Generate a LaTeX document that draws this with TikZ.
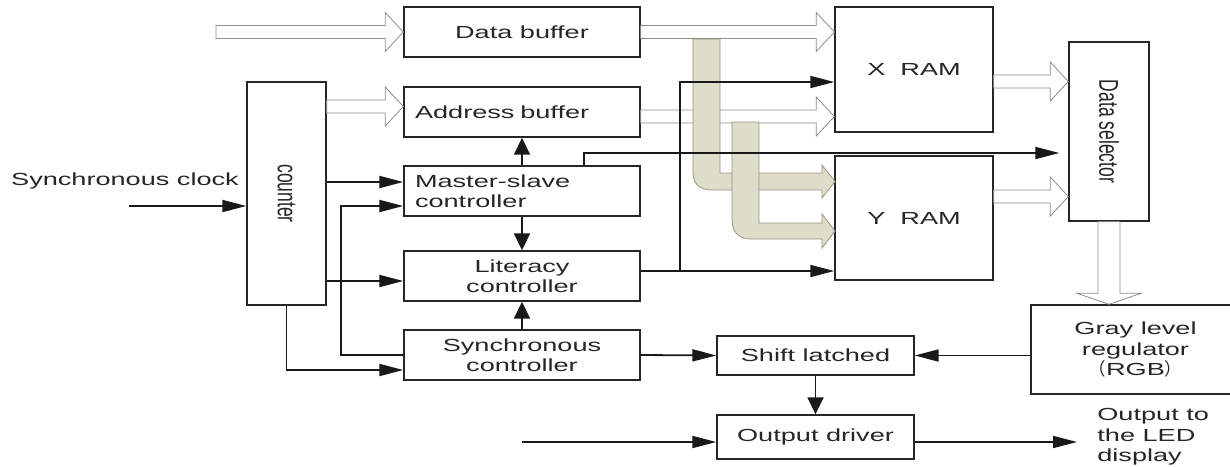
\documentclass[tikz,border=0pt]{standalone}
\usepackage{fontspec}
\setmainfont[FakeStretch=1.55]{Liberation Sans}
\newfontfamily\plainsans{Liberation Sans}
\newfontfamily\cjk{Noto Sans CJK SC}
\usetikzlibrary{arrows.meta,positioning,calc}
\tikzset{every picture/.style={line width=0.75pt}}
\definecolor{busfill}{RGB}{221,221,201}
\definecolor{busline}{RGB}{150,150,130}
% 水平总线箭头: #1 起点, #2 箭头尖
\newcommand\hbus[2]{%
  \path[bus] let \p1=#1, \p2=#2 in
    (\x1,\y2+6.5pt) -- (\x2-18pt,\y2+6.5pt) -- (\x2-18pt,\y2+19.5pt) -- (\x2,\y2)
    -- (\x2-18pt,\y2-19.5pt) -- (\x2-18pt,\y2-6.5pt) -- (\x1,\y2-6.5pt) -- cycle;}
% 竖排文字 (横向拉宽)
\newcommand\vtext[1]{\rotatebox{-90}{\scalebox{1}[1.55]{\plainsans #1}}}

\begin{document}
\begin{tikzpicture}[x=1pt,y=-1pt,
    txt/.style={font=\fontsize{17.5}{20.5}\selectfont, text=black!85, inner sep=0pt},
    blk/.style={txt, draw=black!85, line width=1.4pt, fill=white, align=center},
    ctrl/.style={blk, minimum width=236pt, minimum height=50pt},
    ram/.style={blk, minimum width=158pt, minimum height=125pt},
    bus/.style={draw=gray!90, fill=white, line width=0.8pt},
    tanbus/.style={draw=busline, fill=busfill, line width=0.8pt},
    sig/.style={draw=black!90, line width=1.8pt, -{Triangle[length=24pt,width=12pt]}},
    vsig/.style={draw=black!90, line width=1.8pt, -{Triangle[length=17pt,width=16pt]}}]
    \useasboundingbox (0,0) rectangle (1230,466);
    \fill[white] (0,0) rectangle (1230,466);
    \clip (0,0) rectangle (1230,466);

    % 左侧控制模块
    \node[ctrl] (databuf) at (522,32) {Data buffer};
    \node[ctrl, text width=214pt, align=left] (addrbuf) at (522,112) {Address buffer};
    \node[ctrl, text width=214pt, align=left] (master) at (522,191) {Master-slave\\controller};
    \node[ctrl] (lit) at (522,276) {Literacy\\controller};
    \node[ctrl] (sync) at (522,355) {Synchronous\\controller};

    % 计数器
    \node[blk, minimum width=79pt, minimum height=223pt] (counter) at (286.5,193.5) {};
    \node[txt] (countertxt) at (counter.center) {\vtext{counter}};

    % 存储器与数据选择器
    \node[ram] (xram) at (914,69.5) {X~~RAM};
    \node[ram, minimum height=124pt] (yram) at (914,218) {Y~~RAM};
    \node[blk, minimum width=80pt, minimum height=179pt] (dsel) at (1109,131.5) {};
    \node[txt] (dseltxt) at (dsel.center) {\vtext{Data selector}};

    % 输出部分
    \node[blk, minimum width=209pt, minimum height=89pt] (gray) at (1135.5,349.5) {Gray level\\regulator\\{\cjk （}RGB{\cjk ）}};
    \node[blk, minimum width=197pt, minimum height=39pt] (shift) at (815.5,355.5) {Shift latched};
    \node[blk, minimum width=197pt, minimum height=44pt] (outdrv) at (815.5,437) {Output driver};
    \node[txt, align=left, anchor=west] (outtxt) at (1097,437) {Output to\\the LED\\display};
    \node[txt] (clktxt) at (125,181) {Synchronous clock};

    % 总线
    \coordinate (datain) at (216,32);
    \coordinate (ai) at ($(addrbuf.west)+(0,-5.5)$);
    \coordinate (ao) at ($(addrbuf.east)+(0,4.5)$);
    \coordinate (xo) at ($(xram.east)+(0,12)$);
    \coordinate (yo) at ($(yram.east)+(0,-21.5)$);
    \hbus{(datain)}{(databuf.west)}
    \hbus{(databuf.east)}{(xram.west |- databuf.east)}
    \hbus{(counter.east |- ai)}{(ai)}
    \hbus{(ao)}{(xram.west |- ao)}
    \hbus{(xo)}{(dsel.west |- xo)}
    \hbus{(yo)}{(dsel.west |- yo)}
    \path[bus] let \p1=(dsel.south), \p2=(gray.north) in
        (\x1-11pt,\y1) -- (\x1-11pt,\y2+11pt) -- (\x1-32pt,\y2+11pt) -- (\x1,\y2)
        -- (\x1+32pt,\y2+11pt) -- (\x1+11pt,\y2+11pt) -- (\x1+11pt,\y1) -- cycle;

    % 到 Y RAM 的分支总线
    \path[tanbus] (693,39) -- (693,172) .. controls (693,185) and (700,190) .. (713,190)
        -- (822,190) -- (822,198) -- (835,181.5) -- (822,165) -- (822,173) -- (720,173) -- (720,39) -- cycle;
    \path[tanbus] (732,122) -- (732,219) .. controls (732,233) and (739,239) .. (752,239)
        -- (822,239) -- (822,248) -- (835,231) -- (822,214) -- (822,223) -- (759,223) -- (759,122) -- cycle;

    % 控制信号
    \coordinate (clkin) at (129,206);
    \coordinate (m1) at ($(master.west)+(0,-9)$);
    \coordinate (m2) at ($(master.west)+(0,15)$);
    \coordinate (l1) at ($(lit.west)+(0,5)$);
    \coordinate (s1) at ($(sync.west)+(0,15)$);
    \coordinate (d1) at ($(dsel.west)+(-9,21.5)$);
    \coordinate (r1) at ($(lit.east)+(39,-5)$);
    \coordinate (drvin) at (522,442);
    \coordinate (drvout) at (1077,442);
    \draw[sig] (clkin) -- (counter.west |- clkin);
    \draw[sig] (counter.east |- m1) -- (m1);
    \draw[sig] (sync.west) -- ++(-62,0) |- (m2);
    \draw[sig] (counter.east |- l1) -- (l1);
    \draw[sig] (counter.south) |- (s1);
    \draw[vsig] (master.north) -- (addrbuf.south);
    \draw[vsig] (master.south) -- (lit.north);
    \draw[vsig] (sync.north) -- (lit.south);
    \draw[sig] ($(master.north)+(62,0)$) |- (d1);
    \draw[sig] (lit.east |- r1) -- (r1) |- ($(xram.west)+(0,12.5)$);
    \draw[sig] (r1) -- (yram.west |- r1);
    \draw[sig] (sync.east) -- (shift.west);
    \draw[sig] (gray.west |- shift.east) -- (shift.east);
    \draw[vsig] (shift.south) -- (outdrv.north);
    \draw[sig] (drvin) -- (outdrv.west |- drvin);
    \draw[sig] (outdrv.east |- drvout) -- (drvout);
\end{tikzpicture}
\end{document}
